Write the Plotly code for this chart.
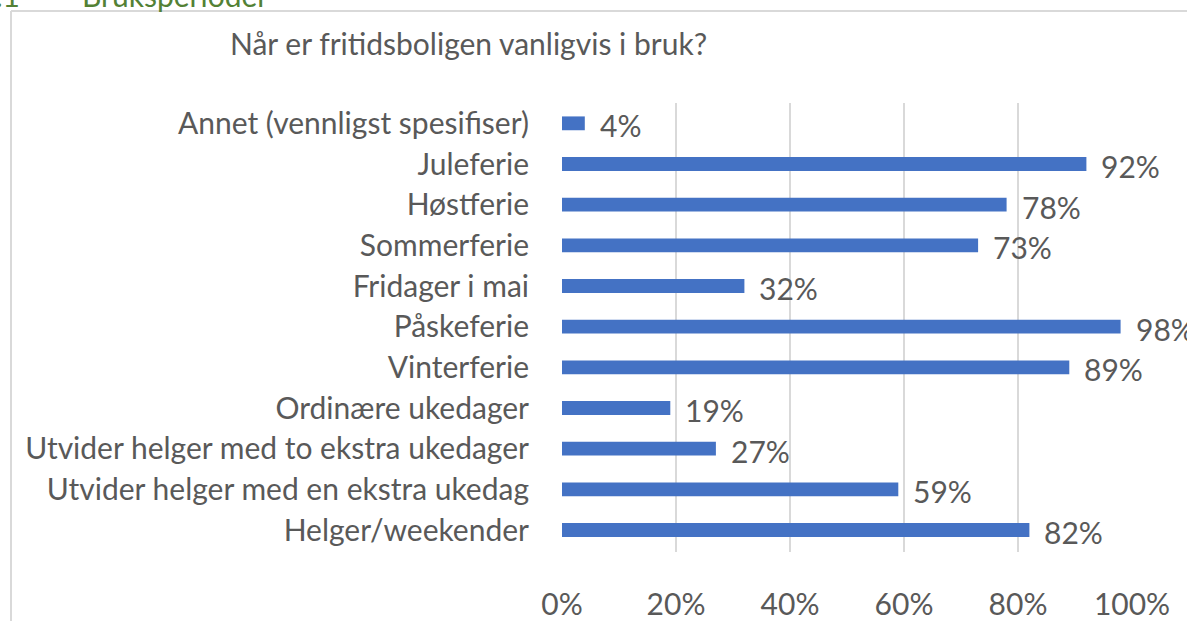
import plotly.graph_objects as go

categories = [
    "Helger/weekender",
    "Utvider helger med en ekstra ukedag",
    "Utvider helger med to ekstra ukedager",
    "Ordinære ukedager",
    "Vinterferie",
    "Påskeferie",
    "Fridager i mai",
    "Sommerferie",
    "Høstferie",
    "Juleferie",
    "Annet (vennligst spesifiser)",
]
values = [0.82, 0.59, 0.27, 0.19, 0.89, 0.98, 0.32, 0.73, 0.78, 0.92, 0.04]
x_ticks = [0, 0.2, 0.4, 0.6, 0.8, 1.0]
x_tick_labels = ["0%", "20%", "40%", "60%", "80%", "100%"]
title_text = "Når er fritidsboligen vanligvis i bruk?"
section_number = "3.1"
section_title = "Bruksperioder"

W, H = 1187, 621
L, R, T, B = 562, 1132, 103, 552
FONT = "Lato"
GREY = "#595959"
FS = 30

def px(x):
    return (x - L) / (R - L)

def py(y):
    return (B - y) / (B - T)

fig = go.Figure()
fig.add_trace(go.Bar(
    x=values, y=categories, orientation="h",
    marker=dict(color="#4472C4", line=dict(width=0)),
    width=0.34, hoverinfo="skip",
))

for v, c in zip(values, categories):
    fig.add_annotation(x=v, y=c, xref="x", yref="y", text=f"{round(v*100)}%",
                       showarrow=False, xanchor="left", yanchor="middle",
                       xshift=13, yshift=-2, font=dict(family=FONT, size=FS, color=GREY))

fig.add_annotation(x=px(228), y=py(43), xref="paper", yref="paper", text=title_text,
                   showarrow=False, xanchor="left", yanchor="middle",
                   font=dict(family=FONT, size=FS, color=GREY))
fig.add_annotation(x=px(22), y=py(15), xref="paper", yref="paper", text=section_number,
                   showarrow=False, xanchor="right", yanchor="bottom",
                   font=dict(family=FONT, size=FS, color="#538135"))
fig.add_annotation(x=px(80), y=py(15), xref="paper", yref="paper", text=section_title,
                   showarrow=False, xanchor="left", yanchor="bottom",
                   font=dict(family=FONT, size=FS, color="#538135"))

fig.add_shape(type="line", xref="paper", yref="paper", x0=px(11), x1=px(1200),
              y0=py(11), y1=py(11), line=dict(color="#D9D9D9", width=2))
fig.add_shape(type="line", xref="paper", yref="paper", x0=px(11), x1=px(11),
              y0=py(11), y1=py(640), line=dict(color="#D9D9D9", width=2))

fig.update_layout(
    template="none",
    width=W, height=H,
    margin=dict(l=L, r=W - R, t=T, b=H - B, autoexpand=False),
    paper_bgcolor="white", plot_bgcolor="white",
    showlegend=False,
    bargap=0.66,
    xaxis=dict(range=[0, 1.0], tickvals=x_ticks, ticktext=x_tick_labels,
               showgrid=True, gridcolor="#D9D9D9", gridwidth=2, zeroline=False,
               showline=False, ticks="", ticklabelstandoff=32, automargin=False,
               tickfont=dict(family=FONT, size=FS, color=GREY), fixedrange=True),
    yaxis=dict(categoryorder="array", categoryarray=categories, showgrid=False,
               zeroline=False, showline=False, ticks="", ticklabelstandoff=32,
               automargin=False,
               tickfont=dict(family=FONT, size=FS, color=GREY), fixedrange=True),
)

fig.write_html("out.html", config={"displayModeBar": False},
               post_script="document.body.style.margin='0';document.body.style.overflow='hidden';")
